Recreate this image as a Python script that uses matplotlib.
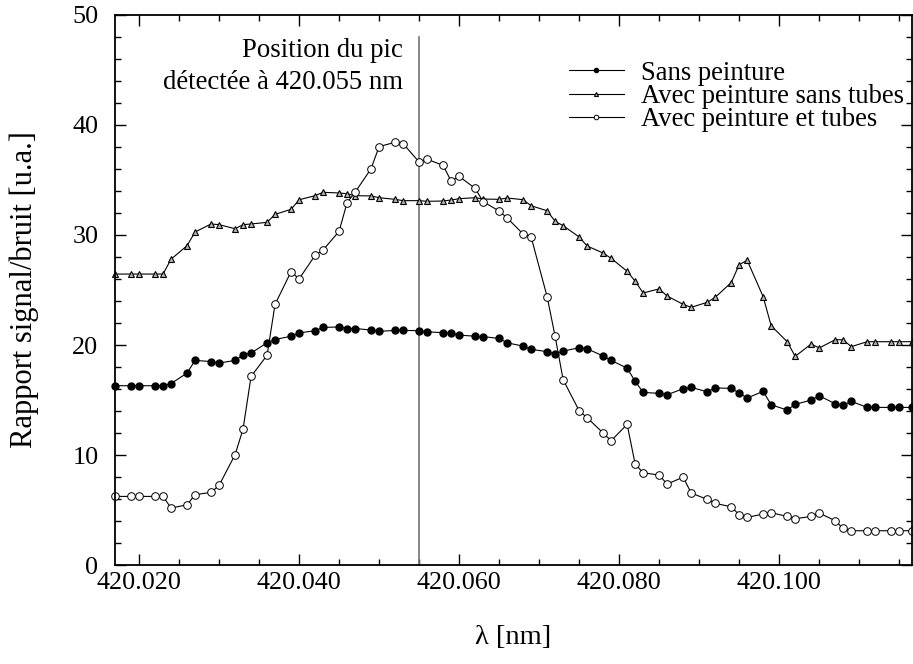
import matplotlib
matplotlib.use('Agg')
import numpy as np
from matplotlib import pyplot as plt
from matplotlib.ticker import MultipleLocator, FormatStrFormatter

plt.rcParams['font.family'] = ['Liberation Serif', 'DejaVu Serif']

# longueurs d'onde (nm)
lam = [420.017, 420.019, 420.020, 420.022, 420.023, 420.024, 420.026, 420.027,
       420.029, 420.030, 420.032, 420.033, 420.034, 420.036, 420.037, 420.039,
       420.040, 420.042, 420.043, 420.045, 420.046, 420.047, 420.049, 420.050,
       420.052, 420.053, 420.055, 420.056, 420.058, 420.059, 420.060, 420.062,
       420.063, 420.065, 420.066, 420.068, 420.069, 420.071, 420.072, 420.073,
       420.075, 420.076, 420.078, 420.079, 420.081, 420.082, 420.083, 420.085,
       420.086, 420.088, 420.089, 420.091, 420.092, 420.094, 420.095, 420.096,
       420.098, 420.099, 420.101, 420.102, 420.104, 420.105, 420.107, 420.108,
       420.109, 420.111, 420.112, 420.114, 420.115, 420.1166]

sans_peinture = [16.3, 16.3, 16.3, 16.3, 16.3, 16.5, 17.45, 18.6, 18.5, 18.36,
                 18.6, 19.1, 19.27, 20.2, 20.5, 20.8, 21.1, 21.3, 21.6, 21.64,
                 21.5, 21.5, 21.36, 21.24, 21.33, 21.33, 21.3, 21.2,
                 21.12, 21.06, 20.9, 20.8, 20.76, 20.6, 20.2, 19.9, 19.6, 19.4,
                 19.2, 19.45, 19.75, 19.66, 19.0, 18.6, 17.9, 16.7, 15.7, 15.6,
                 15.48, 16.03, 16.15, 15.75, 16.1, 16.06, 15.64, 15.18, 15.79, 14.57,
                 14.09, 14.6, 15.0, 15.39, 14.66, 14.52, 14.88, 14.33, 14.33, 14.33,
                 14.33, 14.33]

peinture_sans_tubes = [26.45, 26.45, 26.45, 26.45, 26.45, 27.8, 29.03, 30.27, 31.0, 30.94,
                       30.57, 30.94, 31.0, 31.15, 31.88, 32.33, 33.2, 33.57, 33.88, 33.82,
                       33.75, 33.57, 33.55, 33.39, 33.24, 33.12, 33.12, 33.06,
                       33.09, 33.18, 33.3, 33.39, 33.27, 33.24, 33.36, 33.21, 32.66, 32.2,
                       31.24, 30.85, 29.82, 29.0, 28.36, 27.88, 26.7, 25.8, 24.73, 25.1,
                       24.45, 23.7, 23.42, 23.88, 24.33, 25.67, 27.3, 27.7, 24.39, 21.75,
                       20.3, 18.97, 20.09, 19.73, 20.48, 20.48, 19.85, 20.3, 20.3, 20.3,
                       20.3, 20.3]

peinture_et_tubes = [6.24, 6.24, 6.24, 6.24, 6.24, 5.18, 5.48, 6.39, 6.61, 7.24,
                     10.03, 12.36, 17.15, 19.06, 23.7, 26.67, 26.0, 28.15, 28.64, 30.33,
                     32.94, 33.88, 36.03, 38.03, 38.43, 38.3, 36.64, 36.88,
                     36.33, 34.9, 35.33, 34.24, 33.03, 32.18, 31.55, 30.09, 29.82, 24.39,
                     20.79, 16.85, 14.03, 13.39, 12.0, 11.3, 12.79, 9.18, 8.39, 8.18,
                     7.36, 7.99, 6.55, 5.97, 5.61, 5.3, 4.58, 4.33, 4.64, 4.76,
                     4.42, 4.21, 4.42, 4.73, 4.03, 3.33, 3.12, 3.12, 3.12, 3.12,
                     3.12, 3.12]

pic = 420.055

fig = plt.figure(figsize=(9.13, 6.64), dpi=100)
ax = fig.add_axes([0.126, 0.149, 0.8729, 0.8285])

ax.plot([pic, pic], [0, 48], color='0.45', lw=1.2)

ax.plot(lam, sans_peinture, '-o', color='black', lw=0.8, ms=5,
        mfc='black', mec='black', label='Sans peinture', clip_on=False)
ax.plot(lam, peinture_sans_tubes, '-^', color='black', lw=0.8, ms=4.8,
        mfc='0.7', mec='black', mew=0.8, label='Avec peinture sans tubes', clip_on=False)
ax.plot(lam, peinture_et_tubes, '-o', color='black', lw=0.8, ms=5.5,
        mfc='white', mec='black', mew=0.7, label='Avec peinture et tubes', clip_on=False)

ax.set_xlim(lam[0], lam[-1])
ax.set_ylim(0, 50)
ax.xaxis.set_major_locator(MultipleLocator(0.02))
ax.xaxis.set_minor_locator(MultipleLocator(0.005))
ax.xaxis.set_major_formatter(FormatStrFormatter('%.3f'))
ax.yaxis.set_major_locator(MultipleLocator(10))
ax.yaxis.set_minor_locator(MultipleLocator(2))
ax.tick_params(which='both', direction='in', top=True, right=True, labelsize=18.8)
ax.tick_params(which='major', length=8, width=1)
ax.tick_params(which='minor', length=4, width=1)
ax.tick_params(axis='x', pad=5)
ax.tick_params(axis='y', pad=12)
for s in ax.spines.values():
    s.set_linewidth(1.3)

ax.set_xlabel('λ [nm]', fontsize=20.5, labelpad=22)
ax.set_ylabel('Rapport signal/bruit [u.a.]', fontsize=22, labelpad=24)

ax.text(420.053, 47.9, 'Position du pic\ndétectée à 420.055 nm', ha='right', va='top',
        fontsize=19.3, linespacing=1.35)

leg = ax.legend(loc='upper right', bbox_to_anchor=(0.99, 0.917), frameon=False, fontsize=19.2,
                handlelength=2.05, markerscale=0.6, labelspacing=-0.06, handletextpad=0.65,
                borderaxespad=0.0, borderpad=0.0)

fig.savefig('out.png', dpi=100)
